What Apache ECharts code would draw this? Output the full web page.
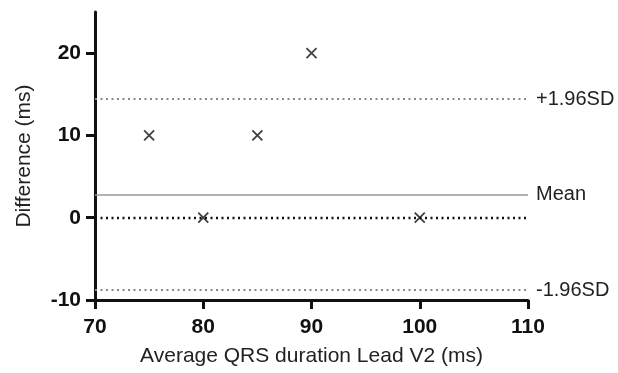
<!DOCTYPE html>
<html>
<head>
<meta charset="utf-8">
<script src="https://cdn.jsdelivr.net/npm/echarts@6/dist/echarts.min.js"></script>
<style>
  html, body { margin: 0; padding: 0; background: #fff; }
  #chart { width: 618px; height: 373px; }
</style>
</head>
<body>
<div id="chart"></div>
<script>
// Bland–Altman plot of QRS duration (lead V2)
const avgDuration = [75, 80, 85, 90, 100];
const difference = [10, 0, 10, 20, 0];
const meanDiff = 2.8;
const upperLimit = 14.4;
const lowerLimit = -8.8;
const xTicks = [70, 80, 90, 100, 110];
const yTicks = [-10, 0, 10, 20];

const font = '"Liberation Sans", Arial, sans-serif';
const crossPath = 'path://M0,0L10,10M10,0L0,10';

const chart = echarts.init(document.getElementById('chart'), null, { renderer: 'canvas' });

function refLine(value, name, color, type, width) {
  return {
    yAxis: value,
    name: name,
    lineStyle: { color: color, type: type, width: width },
    label: {
      show: name !== '',
      position: 'end',
      formatter: name,
      distance: 8,
      color: '#222',
      fontFamily: font,
      fontSize: 20
    }
  };
}

chart.setOption({
  animation: false,
  backgroundColor: '#fff',
  grid: { left: 95, right: 90, top: 12, bottom: 73 },
  xAxis: {
    type: 'value',
    min: xTicks[0],
    max: xTicks[xTicks.length - 1],
    interval: 10,
    name: 'Average QRS duration Lead V2 (ms)',
    nameLocation: 'middle',
    nameGap: 46,
    nameTextStyle: { color: '#222', fontFamily: font, fontSize: 21 },
    axisLine: { show: true, onZero: false, lineStyle: { color: '#111', width: 3 } },
    axisTick: { show: true, length: 9, lineStyle: { color: '#111', width: 3 } },
    axisLabel: { color: '#111', fontFamily: font, fontSize: 21, fontWeight: 'bold', margin: 17 },
    splitLine: { show: false }
  },
  yAxis: {
    type: 'value',
    min: -10,
    max: 25,
    interval: 10,
    name: 'Difference (ms)',
    nameLocation: 'middle',
    nameGap: 60,
    nameTextStyle: { color: '#222', fontFamily: font, fontSize: 21 },
    axisLine: { show: true, onZero: false, lineStyle: { color: '#111', width: 3 } },
    axisTick: { show: true, length: 9, customValues: yTicks, lineStyle: { color: '#111', width: 3 } },
    axisLabel: { color: '#111', fontFamily: font, fontSize: 21, fontWeight: 'bold', margin: 14, customValues: yTicks },
    splitLine: { show: false }
  },
  series: [{
    type: 'scatter',
    data: avgDuration.map((x, i) => [x, difference[i]]),
    symbol: crossPath,
    symbolSize: 10,
    itemStyle: { color: 'rgba(0,0,0,0)', borderColor: '#111', borderWidth: 1.8 },
    z: 5,
    markLine: {
      silent: true,
      symbol: 'none',
      animation: false,
      data: [
        refLine(0, '', '#111', [2, 3.5], 2.4),
        refLine(upperLimit, '+1.96SD', '#888', [2, 3.5], 2),
        refLine(meanDiff, 'Mean', '#999', 'solid', 1.5),
        refLine(lowerLimit, '-1.96SD', '#888', [2, 3.5], 2)
      ]
    }
  }]
});
</script>
</body>
</html>
